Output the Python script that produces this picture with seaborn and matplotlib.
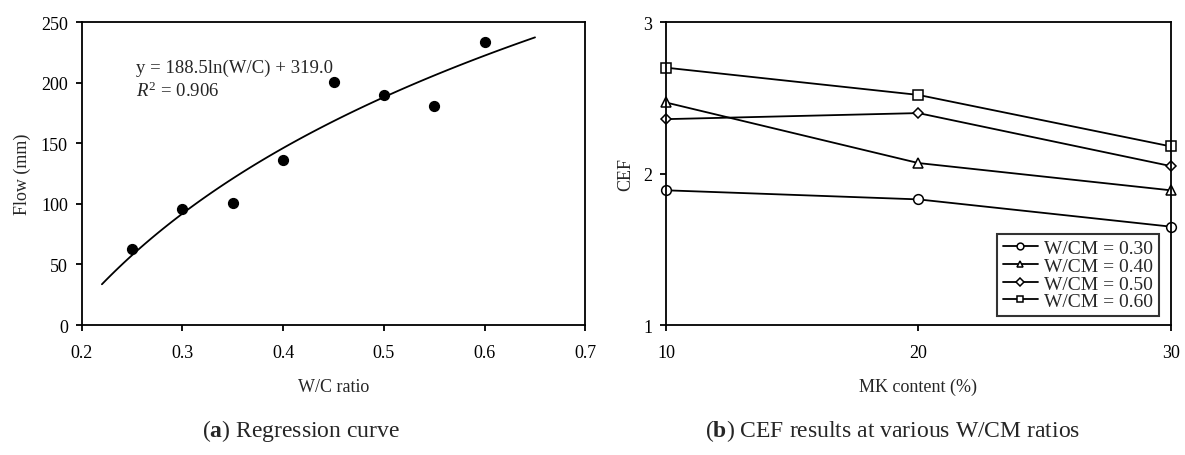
import matplotlib
matplotlib.use("Agg")
import matplotlib.pyplot as plt
import seaborn as sns

## DATA
wc_ratio = [0.25, 0.30, 0.35, 0.40, 0.45, 0.50, 0.55, 0.60]
flow_mm = [63, 96, 101, 136, 201, 190, 181, 234]

mk_content = [10, 20, 30]
cef_labels = ["W/CM = 0.30", "W/CM = 0.40", "W/CM = 0.50", "W/CM = 0.60"]
cef_030 = [1.89, 1.83, 1.65]
cef_040 = [2.47, 2.07, 1.89]
cef_050 = [2.36, 2.40, 2.05]
cef_060 = [2.70, 2.52, 2.18]
cef_markers = ["o", "^", "D", "s"]

## STYLE
sns.set_theme(style="ticks")
plt.rcParams["font.family"] = ["Liberation Serif", "DejaVu Serif"]
plt.rcParams["mathtext.fontset"] = "custom"
plt.rcParams["mathtext.rm"] = "Liberation Serif"
plt.rcParams["mathtext.it"] = "Liberation Serif:italic"
plt.rcParams["mathtext.bf"] = "Liberation Serif:bold"
plt.rcParams["axes.edgecolor"] = "black"
plt.rcParams["axes.linewidth"] = 1.3
plt.rcParams["xtick.color"] = "black"
plt.rcParams["ytick.color"] = "black"
plt.rcParams["xtick.labelsize"] = 13
plt.rcParams["ytick.labelsize"] = 13

fig = plt.figure(figsize=(11.85, 4.56), dpi=100)
ax1 = fig.add_axes([0.069, 0.285, 0.425, 0.664])
ax2 = fig.add_axes([0.562, 0.285, 0.426, 0.664])

## (a) REGRESSION CURVE
ax1.set_xlim(0.22, 0.65)
sns.regplot(x=wc_ratio, y=flow_mm, logx=True, ci=None, truncate=False, ax=ax1,
            scatter_kws={"color": "black", "alpha": 1, "s": 50, "zorder": 3},
            line_kws={"color": "black", "lw": 1.3})
ax1.set_xlim(0.2, 0.7)
ax1.set_ylim(0, 250)
ax1.set_xticks([0.2, 0.3, 0.4, 0.5, 0.6, 0.7])
ax1.set_yticks([0, 50, 100, 150, 200, 250])
ax1.set_xlabel("W/C ratio", fontsize=13, labelpad=12)
ax1.set_ylabel("Flow (mm)", fontsize=13, labelpad=7)
ax1.text(0.254, 213, "y = 188.5ln(W/C) + 319.0", fontsize=13.5, va="center")
ax1.text(0.254, 194, r"$R^2$ = 0.906", fontsize=13.5, va="center")

## (b) CEF RESULTS
for lab, vals, mk in zip(cef_labels, [cef_030, cef_040, cef_050, cef_060], cef_markers):
    sns.lineplot(x=mk_content, y=vals, ax=ax2, color="black", lw=1.3, label=lab,
                 marker=mk, markersize=5.5 if mk == "D" else 7, clip_on=False,
                 markerfacecolor="white", markeredgecolor="black", markeredgewidth=1.1)
ax2.set_xlim(10, 30)
ax2.set_ylim(1, 3)
ax2.set_xticks([10, 20, 30])
ax2.set_yticks([1, 2, 3])
ax2.set_xlabel("MK content (%)", fontsize=13, labelpad=12)
ax2.set_ylabel("CEF", fontsize=13, labelpad=6)
leg = ax2.legend(loc="lower right", fontsize=14, frameon=True, fancybox=False,
                 edgecolor="black", handlelength=1.8, handletextpad=0.3,
                 borderpad=0.3, labelspacing=0.0, markerscale=0.7,
                 borderaxespad=0, bbox_to_anchor=(0.976, 0.03))
leg.get_frame().set_linewidth(1.5)

for ax in (ax1, ax2):
    for s in ax.spines.values():
        s.set_visible(True)
    ax.tick_params(direction="out", length=4, width=1.3, top=False, right=False)
    ax.tick_params(axis="x", pad=10)
    ax.tick_params(axis="y", pad=6)

fig.text(0.254, 0.042, r"($\mathbf{a}$) Regression curve", fontsize=17, ha="center")
fig.text(0.753, 0.042, r"($\mathbf{b}$) CEF results at various W/CM ratios", fontsize=17, ha="center")

fig.savefig("out.png", dpi=100)
